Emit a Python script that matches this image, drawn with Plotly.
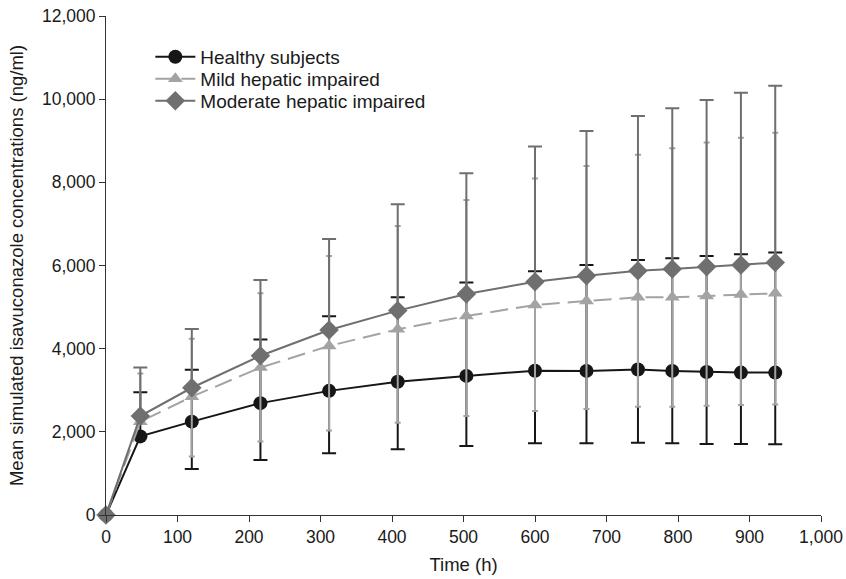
import plotly.graph_objects as go

time_h = [0, 48, 120, 216, 312, 408, 504, 600, 672, 744, 792, 840, 888, 936]

healthy = [0, 1890, 2245, 2690, 2985, 3205, 3345, 3470, 3465, 3500, 3465, 3440, 3425, 3425]
healthy_up = [0, 2950, 3490, 4220, 4780, 5235, 5590, 5860, 6010, 6135, 6175, 6230, 6270, 6310]
healthy_lo = [0, None, 1105, 1325, 1485, 1580, 1660, 1725, 1725, 1740, 1725, 1710, 1705, 1700]

mild = [0, 2245, 2845, 3545, 4065, 4465, 4785, 5050, 5145, 5235, 5235, 5265, 5305, 5330]
mild_up = [0, 3405, 4240, 5330, 6230, 6950, 7575, 8090, 8395, 8665, 8820, 8955, 9075, 9195]
mild_lo = [0, None, 1405, 1765, 2030, 2220, 2380, 2500, 2550, 2605, 2605, 2630, 2645, 2660]

moderate = [0, 2380, 3060, 3830, 4450, 4915, 5315, 5610, 5755, 5875, 5915, 5970, 6010, 6070]
moderate_up = [0, 3545, 4475, 5650, 6640, 7470, 8220, 8860, 9235, 9595, 9780, 9980, 10155, 10320]

y_ticks = [0, 2000, 4000, 6000, 8000, 10000, 12000]
x_ticks = [0, 100, 200, 300, 400, 500, 600, 700, 800, 900, 1000]


def plus(mean, up):
    return [u - m for m, u in zip(mean, up)]


def minus(mean, lo):
    return [0 if l is None else m - l for m, l in zip(mean, lo)]


FONT = "Liberation Sans, Arial, sans-serif"
C_H = "#161616"
C_MI = "#a3a3a3"
C_MO = "#6f6f6f"
LEG_FONT = 19

fig = go.Figure()

fig.add_trace(go.Scatter(
    x=time_h, y=healthy, name="Healthy subjects", mode="lines+markers",
    line=dict(color=C_H, width=2),
    marker=dict(symbol="circle", size=14, color=C_H),
    error_y=dict(type="data", symmetric=False, array=plus(healthy, healthy_up),
                 arrayminus=minus(healthy, healthy_lo), color=C_H, thickness=2, width=7),
    cliponaxis=False, legend="legend",
))
fig.add_trace(go.Scatter(
    x=time_h, y=mild, name="Mild hepatic impaired", mode="lines+markers",
    line=dict(color=C_MI, width=2, dash="18px,8px"),
    marker=dict(symbol="triangle-up", size=13, color=C_MI),
    error_y=dict(type="data", symmetric=False, array=plus(mild, mild_up),
                 arrayminus=minus(mild, mild_lo), color=C_MI, thickness=2, width=3),
    cliponaxis=False, legend="legend2",
))
fig.add_trace(go.Scatter(
    x=time_h, y=moderate, name="Moderate hepatic impaired", mode="lines+markers",
    line=dict(color=C_MO, width=2),
    marker=dict(symbol="diamond", size=15, color=C_MO),
    error_y=dict(type="data", symmetric=False, array=plus(moderate, moderate_up),
                 arrayminus=[0] * len(moderate), color=C_MO, thickness=2, width=7),
    cliponaxis=False, legend="legend3",
))


def leg(y):
    return dict(x=0.062, y=y, xanchor="left", yanchor="middle",
                bgcolor="rgba(0,0,0,0)", font=dict(size=LEG_FONT, family=FONT, color="#1a1a1a"),
                itemwidth=40)


fig.update_layout(
    width=846, height=579,
    margin=dict(l=106, r=25, t=16, b=64),
    paper_bgcolor="white", plot_bgcolor="white",
    font=dict(family=FONT, size=17, color="#1a1a1a"),
    showlegend=True,
    legend=leg(0.918),
    legend2=leg(0.874),
    legend3=leg(0.830),
    xaxis=dict(range=[0, 1000], tickvals=x_ticks, tickformat=",",
               showline=True, linecolor="#333333", linewidth=1,
               ticks="outside", ticklen=6, tickcolor="#333333",
               showgrid=False, zeroline=False, automargin=False,
               ticklabeloverflow="allow",
               title=dict(text="Time (h)", font=dict(size=18.5), standoff=12),
               tickfont=dict(size=17.5)),
    yaxis=dict(range=[0, 12000], tickvals=y_ticks, tickformat=",",
               showline=True, linecolor="#333333", linewidth=1,
               ticks="outside", ticklen=6, tickcolor="#333333",
               showgrid=False, zeroline=False, automargin=False,
               ticklabeloverflow="allow",
               title=dict(text="Mean simulated isavuconazole concentrations (ng/ml)",
                          font=dict(size=18.5), standoff=13),
               tickfont=dict(size=17.5)),
)

fig.write_html("out.html", config={"displayModeBar": False},
               post_script="document.body.style.margin='0';")
